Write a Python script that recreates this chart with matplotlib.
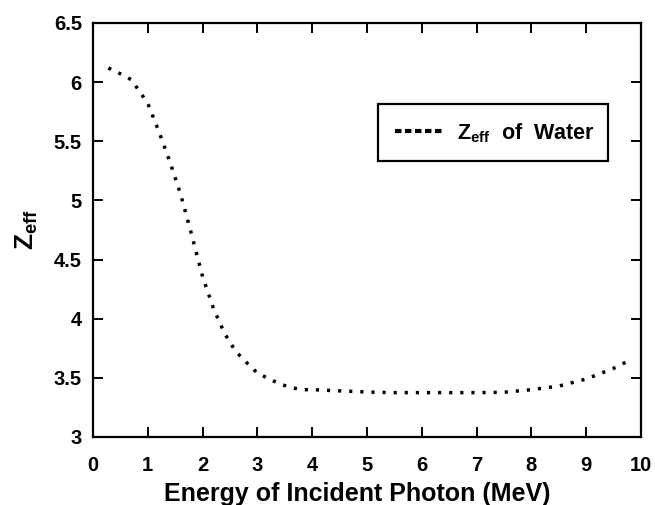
import matplotlib
matplotlib.use("Agg")
import matplotlib.pyplot as plt
from matplotlib.lines import Line2D

# Zeff of water vs. photon energy
energy = [0.28, 0.5, 0.7, 0.85, 1.0, 1.2, 1.4, 1.6, 1.8, 2.0, 2.2, 2.4, 2.6,
          2.8, 3.0, 3.2, 3.4, 3.6, 3.8, 4.0, 4.5, 5.0, 5.5, 6.0, 6.5, 7.0,
          7.5, 8.0, 8.5, 9.0, 9.5, 9.78]
zeff = [6.12, 6.07, 6.02, 5.92, 5.82, 5.585, 5.33, 5.05, 4.71, 4.355, 4.085,
        3.876, 3.726, 3.63, 3.54, 3.495, 3.45, 3.42, 3.40, 3.40, 3.39, 3.38,
        3.375, 3.375, 3.375, 3.375, 3.378, 3.40, 3.43, 3.49, 3.58, 3.645]

x_ticks = [0, 1, 2, 3, 4, 5, 6, 7, 8, 9, 10]
y_ticks = [3, 3.5, 4, 4.5, 5, 5.5, 6, 6.5]
y_tick_labels = ["3", "3.5", "4", "4.5", "5", "5.5", "6", "6.5"]

plt.rcParams["font.family"] = ["Liberation Sans", "DejaVu Sans"]
plt.rcParams["font.weight"] = "bold"
plt.rcParams["mathtext.fontset"] = "custom"
plt.rcParams["mathtext.bf"] = "Liberation Sans:bold"
plt.rcParams["mathtext.rm"] = "Liberation Sans:bold"
plt.rcParams["mathtext.it"] = "Liberation Sans:bold"

fig = plt.figure(figsize=(6.55, 5.05), dpi=100)
ax = fig.add_axes([0.142, 0.1347, 0.8366, 0.8198])

ax.plot(energy, zeff, color="black", linewidth=2.5, dashes=(0.9, 2.3),
        dash_capstyle="butt")

ax.set_xlim(0, 10)
ax.set_ylim(3, 6.5)
ax.set_xticks(x_ticks)
ax.set_yticks(y_ticks)
ax.set_yticklabels(y_tick_labels)
ax.tick_params(direction="in", length=7, width=1.4, top=True, right=True,
               labelsize=14.5)
ax.tick_params(axis="x", pad=14)
ax.tick_params(axis="y", pad=8)
for lbl in ax.get_xticklabels() + ax.get_yticklabels():
    lbl.set_fontweight("bold")
for sp in ax.spines.values():
    sp.set_linewidth(1.6)

ax.set_xlabel("Energy of Incident Photon (MeV)", fontsize=18,
              fontweight="bold", labelpad=5)
ax.xaxis.label.set_x(0.482)
ax.set_ylabel(r"$\mathbf{Z_{eff}}$", fontsize=19, labelpad=10)

handle = Line2D([], [], color="black", linewidth=3, dashes=(1.55, 0.85),
                dash_capstyle="butt")
leg = ax.legend([handle], [r"$\mathbf{Z_{eff}}$  of  Water"],
                loc="upper left", bbox_to_anchor=(0.52, 0.676, 0.42, 0.128),
                mode="expand", fontsize=15.5, frameon=True, fancybox=False,
                handlelength=2.2, handletextpad=0.7, borderpad=0.78,
                borderaxespad=0)
leg.get_frame().set_edgecolor("black")
leg.get_frame().set_linewidth(1.6)
leg.get_frame().set_alpha(1)
for t in leg.get_texts():
    t.set_fontweight("bold")

fig.savefig("out.png", dpi=100)
